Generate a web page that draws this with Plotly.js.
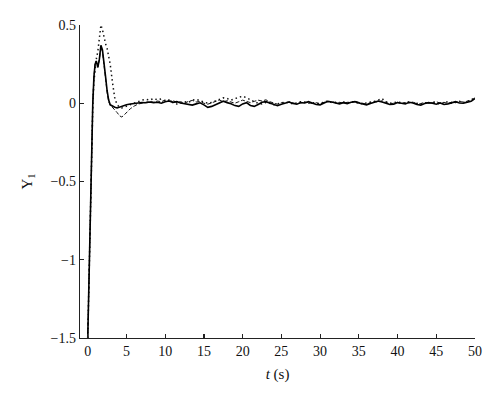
<!DOCTYPE html>
<html>
<head>
<meta charset="utf-8">
<script src="https://cdn.plot.ly/plotly-3.0.1.min.js"></script>
<style>
  html, body { margin: 0; padding: 0; background: #fff; }
  #chart { width: 500px; height: 402px; }
</style>
</head>
<body>
<div id="chart"></div>
<script>
// time samples (s): dense during the start-up transient, then every 0.5 s
const tTransient = [0, 0.3, 0.5, 0.65, 0.8, 0.95, 1.1, 1.3, 1.5, 1.7, 1.9, 2.1, 2.3, 2.5, 2.7, 2.9, 3.2, 3.5, 3.8, 4.1, 4.4, 4.7];
const tSteady = [5, 5.5, 6, 6.5, 7, 7.5, 8, 8.5, 9, 9.5, 10, 10.5, 11, 11.5, 12, 12.5, 13, 13.5, 14, 14.5,
    15, 15.5, 16, 16.5, 17, 17.5, 18, 18.5, 19, 19.5, 20, 20.5, 21, 21.5, 22, 22.5, 23, 23.5, 24, 24.5,
    25, 25.5, 26, 26.5, 27, 27.5, 28, 28.5, 29, 29.5, 30, 30.5, 31, 31.5, 32, 32.5, 33, 33.5, 34, 34.5,
    35, 35.5, 36, 36.5, 37, 37.5, 38, 38.5, 39, 39.5, 40, 40.5, 41, 41.5, 42, 42.5, 43, 43.5, 44, 44.5,
    45, 45.5, 46, 46.5, 47, 47.5, 48, 48.5, 49, 49.5, 50];

// solid line
const solidTransient = [-1.5, -0.75, -0.3, 0.0, 0.17, 0.25, 0.27, 0.23, 0.28, 0.37, 0.34, 0.27, 0.17, 0.08, 0.02, -0.01, -0.02, -0.025, -0.03, -0.025, -0.02, -0.012];
const solidSteady = [-0.01, -0.005, 0.0, 0.002, 0.005, 0.003, 0.008, 0.004, 0.006, 0.0, 0.01, 0.014, 0.006, 0.01, 0.002, -0.004, -0.008, -0.012, -0.004, 0.003,
    -0.01, -0.026, -0.02, -0.008, 0.006, 0.013, 0.004, -0.003, -0.015, -0.02, -0.004, 0.004, -0.014, -0.02, -0.008, 0.006, 0.01, 0.0, -0.01, -0.016,
    -0.006, 0.002, 0.008, -0.002, -0.006, 0.004, 0.002, 0.01, 0.0, -0.008, -0.01, 0.002, 0.012, 0.008, 0.0, -0.004, 0.004, -0.002, 0.006, 0.01,
    0.002, -0.006, -0.01, -0.002, 0.008, 0.014, 0.008, 0.0, -0.008, -0.006, 0.004, 0.0, -0.004, 0.006, 0.002, -0.008, -0.012, -0.002, 0.004, 0.0,
    -0.006, 0.002, -0.008, -0.004, 0.004, 0.01, 0.002, 0.0, 0.006, 0.012, 0.03];

// dotted line
const dottedTransient = [-1.5, -0.78, -0.32, -0.02, 0.14, 0.22, 0.28, 0.33, 0.42, 0.5, 0.47, 0.42, 0.38, 0.35, 0.3, 0.25, 0.13, 0.03, -0.01, -0.025, -0.03, -0.025];
const dottedSteady = [-0.02, -0.01, 0.0, 0.01, 0.02, 0.025, 0.02, 0.03, 0.022, 0.028, 0.015, 0.02, 0.005, -0.005, 0.0, 0.01, 0.005, 0.02, 0.025, 0.015,
    0.01, 0.0, 0.005, 0.015, 0.025, 0.035, 0.03, 0.02, 0.03, 0.04, 0.045, 0.035, 0.02, 0.01, 0.0, -0.005, 0.005, 0.0, -0.01, -0.005,
    0.0, 0.008, 0.004, -0.004, 0.002, 0.01, 0.006, 0.0, 0.004, -0.002, 0.0, 0.008, 0.014, 0.004, 0.006, 0.0, 0.008, 0.002, 0.01, 0.006,
    0.0, -0.004, 0.002, 0.006, 0.012, 0.02, 0.03, 0.01, 0.0, 0.004, 0.008, 0.004, 0.0, 0.01, 0.006, 0.0, -0.006, 0.002, -0.004, 0.01,
    0.004, -0.006, 0.002, 0.01, 0.0, 0.006, 0.012, 0.004, 0.01, 0.02, 0.04];

// dashed line
const dashedTransient = [-1.5, -0.75, -0.3, 0.0, 0.17, 0.25, 0.27, 0.23, 0.28, 0.36, 0.33, 0.26, 0.16, 0.07, 0.01, -0.01, -0.025, -0.04, -0.06, -0.08, -0.088, -0.075];
const dashedSteady = [-0.06, -0.035, -0.018, -0.005, 0.0, 0.008, 0.012, 0.006, 0.014, 0.01, 0.02, 0.012, 0.018, 0.004, 0.01, 0.0, 0.012, 0.018, 0.008, 0.012,
    0.0, -0.006, 0.004, 0.012, 0.02, 0.01, 0.016, 0.008, 0.0, 0.01, 0.02, 0.012, 0.004, 0.012, 0.02, 0.014, 0.022, 0.01, 0.0, -0.006,
    0.004, 0.0, 0.01, 0.004, -0.004, 0.002, 0.008, 0.004, -0.002, 0.004, -0.006, 0.006, 0.01, 0.012, 0.002, 0.006, 0.0, 0.006, 0.004, 0.012,
    0.006, 0.0, -0.006, 0.004, 0.01, 0.008, 0.016, 0.006, -0.004, 0.0, 0.006, -0.002, 0.004, 0.002, 0.008, -0.004, -0.002, 0.006, 0.0, 0.004,
    0.01, 0.0, 0.006, -0.002, 0.008, 0.004, 0.01, 0.008, 0.014, 0.018, 0.035];

const xTickVals = [0, 5, 10, 15, 20, 25, 30, 35, 40, 45, 50];
const yTickVals = [-1.5, -1, -0.5, 0, 0.5];

const serif = 'Liberation Serif, DejaVu Serif, serif';
const t = tTransient.concat(tSteady);

const traces = [
    {
        x: t, y: dashedTransient.concat(dashedSteady),
        type: 'scatter', mode: 'lines',
        line: { color: '#111', width: 1, dash: '4px,2px' }
    },
    {
        x: t, y: dottedTransient.concat(dottedSteady),
        type: 'scatter', mode: 'lines',
        line: { color: '#111', width: 1.5, dash: '1.5px,3px' }
    },
    {
        x: t, y: solidTransient.concat(solidSteady),
        type: 'scatter', mode: 'lines',
        line: { color: '#000', width: 1.6 }
    }
];

const axisBase = {
    showline: true,
    linecolor: '#222',
    linewidth: 1.2,
    ticks: 'inside',
    ticklen: 4,
    tickwidth: 1.2,
    tickcolor: '#222',
    showgrid: false,
    zeroline: false,
    tickfont: { family: serif, size: 14, color: '#111' }
};

const layout = {
    width: 500,
    height: 402,
    paper_bgcolor: '#fff',
    plot_bgcolor: '#fff',
    showlegend: false,
    margin: { l: 80, r: 25, t: 25, b: 64 },
    xaxis: {
        ...axisBase,
        range: [-1, 50],
        tickvals: xTickVals,
        title: { text: '<i>t</i> (s)', font: { family: serif, size: 15, color: '#111' }, standoff: 10 }
    },
    yaxis: {
        ...axisBase,
        range: [-1.5, 0.5],
        tickvals: yTickVals,
        title: { text: 'Y<sub>1</sub>', font: { family: serif, size: 15, color: '#111' }, standoff: 14 }
    }
};

Plotly.newPlot('chart', traces, layout, { displayModeBar: false, staticPlot: true });
</script>
</body>
</html>
